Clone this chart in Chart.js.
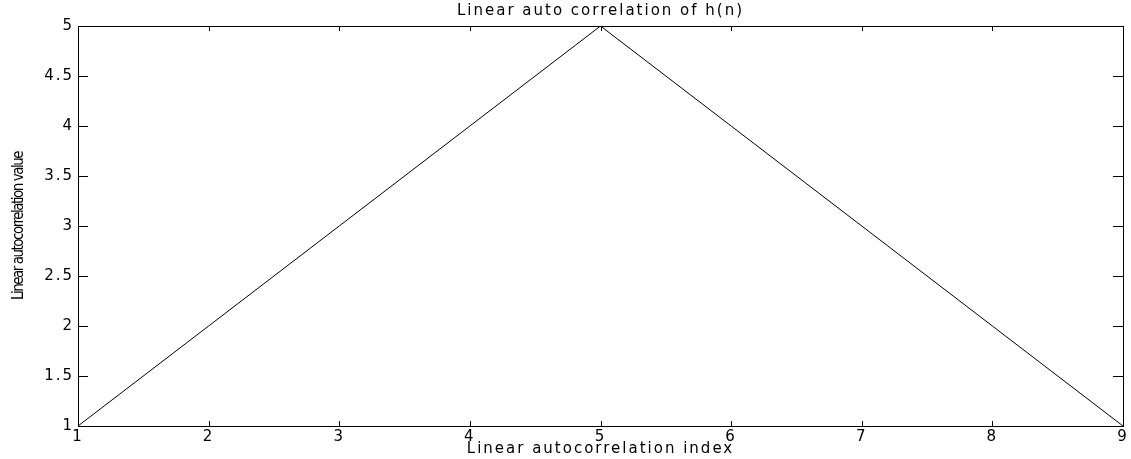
<!DOCTYPE html>
<html>
<head>
<meta charset="utf-8">
<title>Linear auto correlation of h(n)</title>
<script src="https://cdn.jsdelivr.net/npm/chart.js@4/dist/chart.umd.min.js"></script>
<style>
    html, body { margin: 0; padding: 0; background: #fff; }
    canvas { display: block; }
</style>
</head>
<body>
<canvas id="autocorr_chart" width="1131" height="459"></canvas>
<script>
// lag index and linear autocorrelation of h(n)
const lagIndex = [1, 2, 3, 4, 5, 6, 7, 8, 9];
const autocorrValues = [1, 2, 3, 4, 5, 4, 3, 2, 1];

const titleText = 'Linear auto correlation of h(n)';
const xTitleText = 'Linear autocorrelation index';
const yTitleText = 'Linear autocorrelation value';

// y axis whose title is drawn squeezed instead of wide
class NarrowTitleScale extends Chart.LinearScale {
    drawTitle() {
        this.ctx.save();
        this.ctx.letterSpacing = '-1.5px';
        super.drawTitle();
        this.ctx.restore();
    }
}
NarrowTitleScale.id = 'narrowTitle';
NarrowTitleScale.defaults = Chart.LinearScale.defaults;
Chart.register(NarrowTitleScale);

//- matlab style box with inward ticks -
//-------------
const boxTicks = {
    id: 'boxTicks',
    beforeDraw(chart) {
        chart.ctx.letterSpacing = '2px';
    },
    afterDraw(chart) {
        let ctx = chart.ctx
        let a = chart.chartArea
        let x = chart.scales.x
        let y = chart.scales.y
        ctx.save();
        ctx.strokeStyle = '#000';
        ctx.lineWidth = 1;
        ctx.beginPath();
        x.ticks.forEach(t => {
            let px = Math.round(x.getPixelForValue(t.value)) + 0.5;
            ctx.moveTo(px, a.bottom);
            ctx.lineTo(px, a.bottom - 5);
            ctx.moveTo(px, a.top);
            ctx.lineTo(px, a.top + 5);
        });
        y.ticks.forEach(t => {
            let py = Math.round(y.getPixelForValue(t.value)) + 0.5;
            ctx.moveTo(a.left, py);
            ctx.lineTo(a.left + 10, py);
            ctx.moveTo(a.right, py);
            ctx.lineTo(a.right - 10, py);
        });
        ctx.stroke();
        ctx.strokeRect(Math.round(a.left) + 0.5, Math.round(a.top) + 0.5,
            Math.round(a.width), Math.round(a.height));
        ctx.restore();
        ctx.letterSpacing = '0px';
    }
};

Chart.defaults.font.family = "'DejaVu Sans', sans-serif";
Chart.defaults.color = '#000';

let chartCanvas = document.getElementById('autocorr_chart').getContext('2d');

new Chart(chartCanvas, {
    type: 'line',
    data: {
        datasets: [{
            data: lagIndex.map((v, i) => ({x: v, y: autocorrValues[i]})),
            borderColor: '#000',
            borderWidth: 1,
            pointRadius: 0,
            fill: false,
            tension: 0
        }]
    },
    options: {
        responsive: false,
        animation: false,
        devicePixelRatio: 1,
        layout: {
            padding: {left: 0, right: 8, top: 0, bottom: 0}
        },
        plugins: {
            legend: {display: false},
            tooltip: {enabled: false},
            title: {
                display: true,
                text: titleText,
                fullSize: false,
                color: '#000',
                font: {size: 15, weight: 'normal'},
                padding: {top: 2, bottom: 6}
            }
        },
        scales: {
            x: {
                type: 'linear',
                min: 1,
                max: 9,
                grid: {display: false, drawTicks: false},
                border: {display: false},
                ticks: {
                    stepSize: 1,
                    padding: 2,
                    font: {size: 15},
                    maxRotation: 0,
                    callback: v => String(v)
                },
                title: {
                    display: true,
                    text: xTitleText,
                    font: {size: 15},
                    padding: {top: 0, bottom: 1}
                },
                afterFit: scale => { scale.height = 33; }
            },
            y: {
                type: 'narrowTitle',
                min: 1,
                max: 5,
                grid: {display: false, drawTicks: false},
                border: {display: false},
                ticks: {
                    stepSize: 0.5,
                    padding: 4,
                    font: {size: 15},
                    callback: v => String(v)
                },
                title: {
                    display: true,
                    text: yTitleText,
                    font: {family: "'Liberation Sans Narrow', 'DejaVu Sans Condensed', sans-serif", size: 15},
                    padding: {top: 10, bottom: 0}
                },
                afterFit: scale => { scale.width = 78; }
            }
        }
    },
    plugins: [boxTicks]
})
</script>
</body>
</html>
